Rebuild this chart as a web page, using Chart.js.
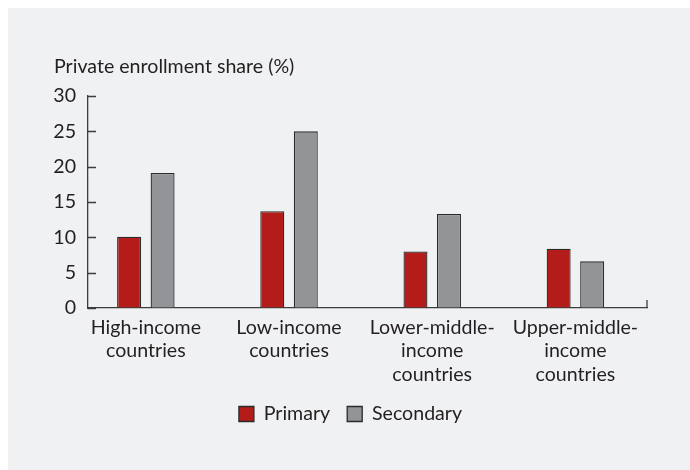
<!DOCTYPE html>
<html>
<head>
<meta charset="utf-8">
<script src="https://cdn.jsdelivr.net/npm/chart.js@4/dist/chart.umd.min.js"></script>
<style>
  html, body { margin: 0; padding: 0; background: #ffffff; }
  #panel { position: absolute; left: 8px; top: 8px; width: 682px; height: 462px; background: #f0f1f3; }
  canvas { display: block; }
</style>
</head>
<body>
<div id="panel"><canvas id="chart" width="682" height="462"></canvas></div>
<script>
// Income groups (each label split into its printed lines)
const categories = [
  ['High-income', 'countries'],
  ['Low-income', 'countries'],
  ['Lower-middle-', 'income', 'countries'],
  ['Upper-middle-', 'income', 'countries']
];
// Private enrollment share, percent
const primary = [10.1, 13.7, 8.0, 8.4];
const secondary = [19.1, 25.0, 13.3, 6.6];
const yTicks = [0, 5, 10, 15, 20, 25, 30];

const FONT = 'Lato, "Open Sans", sans-serif';
const FS = 19.6;
const INK = '#231f20';
const AXIS = '#3d3d3d';

const toPoints = vals => vals.map((v, i) => ({ x: i, y: v }));

// Short tick marks pointing into the plot, plus the closing tick at the end of the x axis
const innerTicks = {
  id: 'innerTicks',
  afterDraw(chart) {
    const { ctx } = chart;
    const y = chart.scales.y, x = chart.scales.x;
    ctx.save();
    ctx.strokeStyle = AXIS;
    ctx.lineWidth = 1.3;
    ctx.beginPath();
    y.ticks.forEach((t, i) => {
      const py = Math.round(y.getPixelForTick(i)) + 0.5;
      ctx.moveTo(y.right, py);
      ctx.lineTo(y.right + 8, py);
    });
    const ex = x.right;
    ctx.moveTo(ex, y.bottom);
    ctx.lineTo(ex, y.bottom - 8);
    ctx.stroke();
    ctx.restore();
  }
};

new Chart(document.getElementById('chart'), {
  type: 'bar',
  data: {
    datasets: [
      {
        label: 'Primary',
        data: toPoints(primary),
        backgroundColor: '#b31c18',
        borderColor: '#2b2b2b',
        borderWidth: 1.3
      },
      {
        label: 'Secondary',
        data: toPoints(secondary),
        backgroundColor: '#939497',
        borderColor: '#2b2b2b',
        borderWidth: 1.3
      }
    ]
  },
  options: {
    responsive: false,
    animation: false,
    devicePixelRatio: 1,
    categoryPercentage: 0.468,
    barPercentage: 0.716,
    layout: { padding: { left: 46, right: 43, top: 0, bottom: 36.2 } },
    scales: {
      x: {
        type: 'linear',
        offset: false,
        min: -0.404,
        max: 3.5,
        afterBuildTicks: scale => { scale.ticks = categories.map((_, i) => ({ value: i })); },
        afterFit: scale => { scale.height = 79.2; },
        grid: { display: true, offset: false, drawOnChartArea: false, drawTicks: false },
        border: { display: true, color: AXIS, width: 1.3 },
        ticks: {
          autoSkip: false,
          maxRotation: 0,
          minRotation: 0,
          padding: 7.75,
          color: INK,
          font: { family: FONT, size: FS, lineHeight: '23.5px' },
          callback: (value, index) => categories[index]
        }
      },
      y: {
        min: 0,
        max: 30,
        afterBuildTicks: scale => { scale.ticks = yTicks.map(v => ({ value: v })); },
        afterFit: scale => { scale.width = 34; },
        grid: { display: true, drawOnChartArea: false, drawTicks: false },
        border: { display: true, color: AXIS, width: 1.3 },
        ticks: {
          padding: 12,
          color: INK,
          font: { family: FONT, size: FS }
        }
      }
    },
    plugins: {
      title: {
        display: true,
        text: 'Private enrollment share (%)',
        align: 'start',
        color: INK,
        font: { family: FONT, size: FS, weight: 'normal', lineHeight: 1.2 },
        padding: { top: 46.9, bottom: 17.6 }
      },
      legend: {
        display: true,
        position: 'bottom',
        labels: {
          boxWidth: 15,
          boxHeight: 15,
          padding: 17,
          color: INK,
          font: { family: FONT, size: FS }
        }
      },
      tooltip: { enabled: false }
    }
  },
  plugins: [innerTicks]
});
</script>
</body>
</html>
